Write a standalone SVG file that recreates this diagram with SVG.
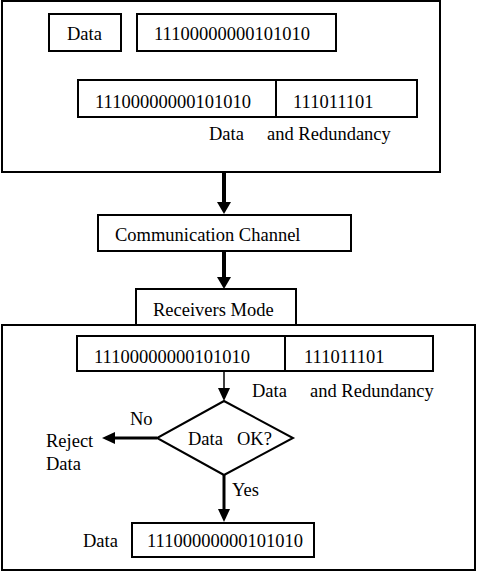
<svg xmlns="http://www.w3.org/2000/svg" width="479" height="571" viewBox="0 0 479 571">
<style>
.b{fill:#fff;stroke:#000;stroke-width:2}
.t{font-size:18.5px;fill:#000}
.ln{stroke:#000;fill:none}
</style>
<rect x="0" y="0" width="479" height="571" fill="#fff"/>
<g font-family="'Liberation Serif', 'DejaVu Serif', serif">
<g id="sender">
<rect class="b" x="2" y="1" width="438" height="171"/>
</g>
<g id="data-label-box">
<rect class="b" x="49" y="14" width="72" height="37" stroke-width="1.5"/>
<text class="t" x="67" y="40">Data</text>
</g>
<g id="data-bits-box">
<rect class="b" x="137" y="14" width="199" height="37" stroke-width="1.5"/>
<text class="t" x="154" y="40">11100000000101010</text>
</g>
<g id="sent-data">
<rect class="b" x="78" y="80" width="198" height="37"/>
<text class="t" x="95" y="108">11100000000101010</text>
</g>
<g id="sent-redundancy">
<rect class="b" x="276" y="80" width="141" height="37"/>
<text class="t" x="293" y="108">111011101</text>
</g>
<g id="sent-caption">
<text class="t" x="209" y="140">Data</text>
<text class="t" x="267" y="140">and Redundancy</text>
</g>
<g id="channel">
<rect class="b" x="98" y="215" width="253" height="36"/>
<text class="t" x="115" y="241">Communication Channel</text>
</g>
<g id="receiver">
<rect class="b" x="2" y="325" width="473" height="245"/>
</g>
<g id="receivers-mode">
<rect class="b" x="136" y="289" width="160" height="36"/>
<text class="t" x="153" y="316">Receivers Mode</text>
</g>
<g id="recv-data">
<rect class="b" x="77" y="336" width="208" height="35"/>
<text class="t" x="94" y="363">11100000000101010</text>
</g>
<g id="recv-redundancy">
<rect class="b" x="285" y="336" width="148" height="35"/>
<text class="t" x="304" y="363">111011101</text>
</g>
<g id="recv-caption">
<text class="t" x="252" y="397">Data</text>
<text class="t" x="310" y="397">and Redundancy</text>
</g>
<g id="decision">
<polygon class="b" points="224,401 293,438 224,475 157,438" stroke-width="1.3"/>
<text class="t" x="188" y="445">Data<tspan x="237">OK?</tspan></text>
</g>
<g id="reject">
<text class="t" x="46" y="447">Reject</text>
<text class="t" x="46" y="470">Data</text>
</g>
<g id="output">
<text class="t" x="83" y="547">Data</text>
<rect class="b" x="132" y="523" width="182" height="34"/>
<text class="t" x="147" y="547">11100000000101010</text>
</g>
<g id="connectors">
<line class="ln" x1="224" y1="172" x2="224" y2="203" stroke-width="4"/>
<polygon points="217,202 231,202 224,214"/>
<line class="ln" x1="224" y1="251" x2="224" y2="278" stroke-width="4"/>
<polygon points="217,277 231,277 224,289"/>
<line class="ln" x1="224" y1="371" x2="224" y2="390" stroke-width="1.5"/>
<polygon points="218,388 230,388 224,401"/>
<line class="ln" x1="157" y1="438" x2="113" y2="438" stroke-width="3"/>
<polygon points="115,432 115,444 102,438"/>
<text class="t" x="130" y="425">No</text>
<line class="ln" x1="224" y1="475" x2="224" y2="511" stroke-width="3"/>
<polygon points="218,509 230,509 224,522"/>
<text class="t" x="232" y="496">Yes</text>
</g>
</g>
</svg>
